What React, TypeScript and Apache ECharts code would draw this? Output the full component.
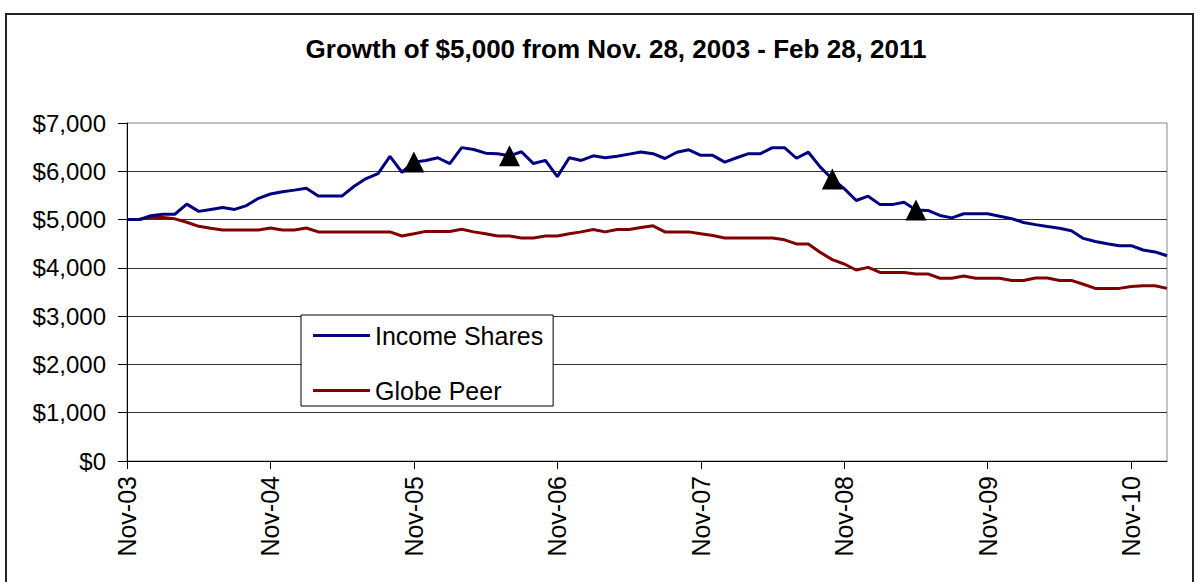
import React, { useEffect, useRef } from "react";
import * as echarts from "echarts";

const MONTH_NAMES = ["Jan", "Feb", "Mar", "Apr", "May", "Jun", "Jul", "Aug", "Sep", "Oct", "Nov", "Dec"];
const START_MONTH = 10; // Nov
const START_YEAR = 2003;
const MONTH_COUNT = 88; // Nov-03 .. Feb-11

const categories: string[] = [];
for (let i = 0; i < MONTH_COUNT; i++) {
  const m = (START_MONTH + i) % 12;
  const y = START_YEAR + Math.floor((START_MONTH + i) / 12);
  categories.push(`${MONTH_NAMES[m]}-${String(y % 100).padStart(2, "0")}`);
}

const incomeShares = [
  5000, 5000, 5080, 5110, 5110, 5320, 5170, 5210, 5250, 5210, 5290, 5440,
  5530, 5575, 5610, 5650, 5490, 5490, 5490, 5690, 5850, 5950, 6310, 5980,
  6190, 6225, 6280, 6160, 6490, 6450, 6375, 6365, 6320, 6405, 6160, 6225,
  5890, 6280, 6225, 6320, 6280, 6310, 6355, 6400, 6365, 6265, 6395, 6445,
  6330, 6330, 6190, 6280, 6365, 6365, 6490, 6490, 6270, 6395, 6085, 5840,
  5640, 5395, 5485, 5310, 5310, 5360, 5200, 5190, 5085, 5035, 5120, 5120,
  5120, 5070, 5020, 4940, 4895, 4855, 4820, 4770, 4610, 4545, 4500, 4460,
  4460, 4370, 4330, 4250,
];

const globePeer = [
  5000, 5000, 5045, 5045, 5015, 4945, 4860, 4820, 4785, 4785, 4785, 4785,
  4825, 4785, 4785, 4825, 4745, 4745, 4745, 4745, 4745, 4745, 4745, 4660,
  4705, 4755, 4755, 4755, 4800, 4745, 4705, 4660, 4660, 4620, 4620, 4660,
  4660, 4705, 4745, 4795, 4745, 4795, 4795, 4835, 4870, 4745, 4745, 4745,
  4705, 4670, 4620, 4620, 4620, 4620, 4620, 4580, 4495, 4495, 4320, 4170,
  4080, 3955, 4010, 3905, 3905, 3905, 3875, 3875, 3785, 3785, 3830, 3785,
  3785, 3785, 3740, 3740, 3790, 3790, 3740, 3740, 3660, 3575, 3575, 3575,
  3615, 3630, 3630, 3575,
];

// indices of months flagged with a triangle on the Income Shares line
const markerIndices = [24, 32, 59, 66];

const TITLE = "Growth of $5,000 from Nov. 28, 2003 - Feb 28, 2011";
const SERIES_NAMES = ["Income Shares", "Globe Peer"];
const FONT = "'Liberation Sans', Arial, Helvetica, sans-serif";

export default function App() {
  const ref = useRef<HTMLDivElement>(null);

  useEffect(() => {
    if (!ref.current) return;
    const chart = echarts.init(ref.current, undefined, { renderer: "svg" });
    const markerData = markerIndices.map((i) => [i, incomeShares[i]]);

    chart.setOption({
      animation: false,
      backgroundColor: "#fff",
      textStyle: { fontFamily: FONT },
      graphic: [
        {
          type: "rect",
          shape: { x: 6, y: 14, width: 1187, height: 600 },
          style: { fill: "none", stroke: "#222", lineWidth: 2 },
          silent: true,
          z: 0,
        },
        {
          type: "text",
          x: 616,
          y: 49,
          style: {
            text: TITLE,
            fill: "#000",
            font: `bold 26px ${FONT}`,
            align: "center",
            verticalAlign: "middle",
          },
        },
      ],
      grid: {
        left: 127,
        top: 123,
        right: 32,
        bottom: 121,
        containLabel: false,
        outerBoundsMode: "none",
        show: true,
        borderColor: "#888",
        borderWidth: 1,
        backgroundColor: "transparent",
      },
      legend: {
        data: SERIES_NAMES,
        orient: "vertical",
        left: 301,
        top: 315,
        icon: "rect",
        itemWidth: 57,
        itemHeight: 3,
        itemGap: 30,
        padding: [8, 10, 3, 12],
        borderColor: "#000",
        borderWidth: 1,
        backgroundColor: "#fff",
        textStyle: { fontSize: 25, color: "#000", fontFamily: FONT },
        selectedMode: false,
      },
      xAxis: {
        type: "category",
        data: categories,
        boundaryGap: false,
        axisLine: { lineStyle: { color: "#000", width: 1 } },
        axisTick: { show: true, interval: 11, length: 8, lineStyle: { color: "#000" } },
        axisLabel: {
          interval: 11,
          rotate: 90,
          margin: 15,
          fontSize: 25,
          color: "#000",
          fontFamily: FONT,
        },
        splitLine: { show: false },
      },
      yAxis: {
        type: "value",
        min: 0,
        max: 7000,
        interval: 1000,
        axisLine: { show: true, lineStyle: { color: "#000", width: 1 } },
        axisTick: { show: true, length: 9, lineStyle: { color: "#000" } },
        axisLabel: {
          margin: 21,
          fontSize: 24,
          color: "#000",
          fontFamily: FONT,
          formatter: (v: number) => "$" + v.toLocaleString("en-US"),
        },
        splitLine: {
          show: true,
          showMaxLine: false,
          lineStyle: { color: "#333", width: 1 },
        },
      },
      series: [
        {
          name: SERIES_NAMES[0],
          type: "line",
          data: incomeShares,
          symbol: "none",
          lineStyle: { color: "#000080", width: 3 },
          itemStyle: { color: "#000080" },
          z: 3,
        },
        {
          name: SERIES_NAMES[1],
          type: "line",
          data: globePeer,
          symbol: "none",
          lineStyle: { color: "#800000", width: 3 },
          itemStyle: { color: "#800000" },
          z: 2,
        },
        {
          name: "markers",
          type: "scatter",
          data: markerData,
          symbol: "triangle",
          symbolSize: 21,
          itemStyle: { color: "#000", opacity: 1 },
          emphasis: { disabled: true },
          z: 5,
        },
      ],
    });

    return () => chart.dispose();
  }, []);

  return (
    <div
      ref={ref}
      style={{ position: "absolute", left: 0, top: 0, width: 1199, height: 582 }}
    />
  );
}
